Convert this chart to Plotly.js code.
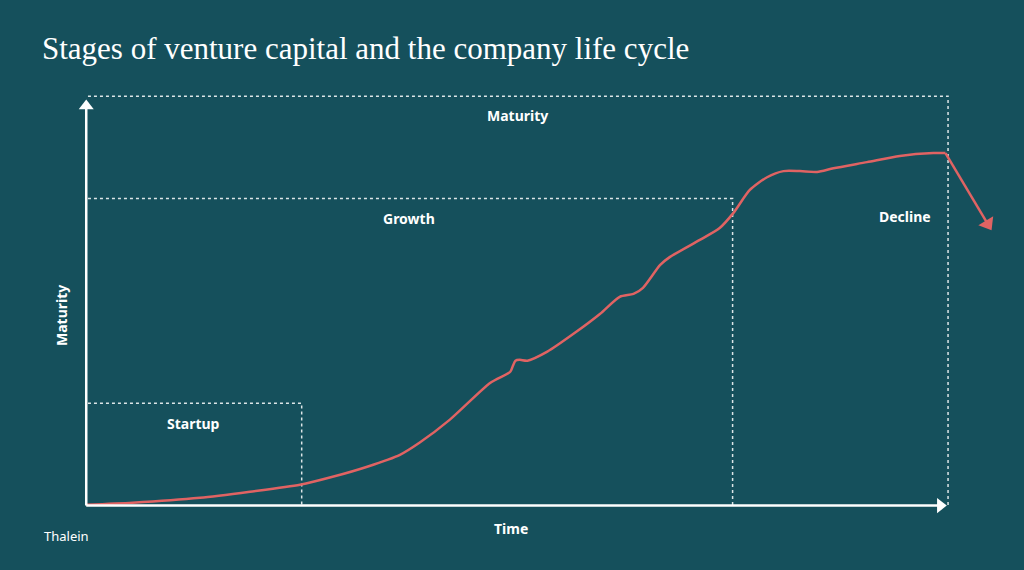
<!DOCTYPE html>
<html>
<head>
<meta charset="utf-8">
<script src="https://cdn.plot.ly/plotly-3.0.1.min.js"></script>
<style>html,body{margin:0;padding:0;background:#15505c;}#chart{width:1024px;height:570px;}</style>
</head>
<body>
<div id="chart"></div>
<script>
// Life-cycle curve (time vs maturity, 0-100 scale)
const timeVals = [0, 5.4, 13.2, 19.0, 24.8, 28.7, 32.6, 36.4, 38.7, 42.2, 46.9, 49.2, 49.5, 49.8, 50.3, 51.2, 53.5, 56.7, 59.6, 61.9, 63.5, 64.6, 66.6, 67.7, 71.2, 73.5, 75.1, 77.0, 79.0, 80.9, 82.8, 84.8, 86.7, 90.6, 94.4, 98.3, 99.7];
const maturityVals = [0.2, 0.7, 1.9, 3.4, 5.1, 7.1, 9.5, 12.4, 15.4, 21.0, 30.0, 32.7, 34.1, 35.4, 35.6, 35.4, 37.6, 42.2, 46.8, 51.0, 51.7, 53.2, 58.8, 60.7, 64.9, 67.8, 71.5, 77.1, 80.2, 81.7, 81.7, 81.5, 82.4, 83.9, 85.4, 86.1, 86.1];
// Decline segment
const declineTime = [99.7, 104.6];
const declineMaturity = [86.1, 68.8];
// Stages
const stageNames = ["Startup", "Growth", "Maturity"];
const stageBounds = [25, 75, 100];
const stageLabelX = [12.4, 37.5, 50];
const stageLabelY = [20, 70.2, 95.4];
const declineLabel = {text: "Decline", x: 95, y: 70.5};

const white = "#ffffff";
const red = "#e06363";
const labFont = {family: "Noto Sans, DejaVu Sans, sans-serif", size: 14, color: white, weight: 700};

const traces = [
  {x: timeVals, y: maturityVals, mode: "lines", line: {color: red, width: 2.5, shape: "spline", smoothing: 0.7}, hoverinfo: "skip"},
  {x: declineTime, y: declineMaturity, mode: "lines+markers", line: {color: red, width: 2.5},
   marker: {symbol: "triangle-up", size: [0, 15], color: red, opacity: 1, line: {width: 0}, angleref: "previous"}, cliponaxis: false, hoverinfo: "skip"},
  // axes arrows
  {x: [0, 0], y: [0, 97.6], mode: "lines+markers", line: {color: white, width: 2.5},
   marker: {symbol: "triangle-up", size: [0, 13], color: white, opacity: 1, line: {width: 0}, angleref: "previous"}, cliponaxis: false, hoverinfo: "skip"},
  {x: [0, 99.1], y: [0, 0], mode: "lines+markers", line: {color: white, width: 2.5},
   marker: {symbol: "triangle-up", size: [0, 13], color: white, opacity: 1, line: {width: 0}, angleref: "previous"}, cliponaxis: false, hoverinfo: "skip"}
];

const shapes = stageBounds.map(b => ({
  type: "path", xref: "x", yref: "y",
  path: `M 0.2,${b} L ${b},${b} L ${b},0`,
  line: {color: "rgba(255,255,255,0.85)", width: 1.5, dash: "dot"}, layer: "below"
}));

const annotations = stageNames.map((n, i) => ({
  text: n, x: stageLabelX[i], y: stageLabelY[i], xref: "x", yref: "y", showarrow: false, font: labFont
}));
annotations.push({text: declineLabel.text, x: declineLabel.x, y: declineLabel.y, xref: "x", yref: "y", showarrow: false, font: labFont});
annotations.push({text: "Time", x: 0.466, y: -0.016, xref: "paper", yref: "paper", showarrow: false, font: labFont, yanchor: "middle"});
annotations.push({text: "Maturity", x: -0.0074, y: 0.477, xref: "paper", yref: "paper", xanchor: "center", yanchor: "middle", showarrow: false, font: labFont, textangle: -90});
annotations.push({text: "Thalein", x: -0.0285, y: -0.0576, xref: "paper", yref: "paper", xanchor: "left", showarrow: false,
  font: {family: "Noto Sans, DejaVu Sans, sans-serif", size: 13, color: white}});

const layout = {
  width: 1024, height: 570,
  paper_bgcolor: "#15505c", plot_bgcolor: "#15505c",
  margin: {l: 69, r: 7, t: 88, b: 48},
  showlegend: false,
  title: {text: "Stages of venture capital and the company life cycle", x: 0.041, xref: "container", xanchor: "left",
    y: 0.916, yref: "container", yanchor: "middle",
    font: {family: "Liberation Serif, DejaVu Serif, serif", size: 31, color: white}},
  xaxis: {range: [-2, 108], visible: false, fixedrange: true},
  yaxis: {range: [-4, 102], visible: false, fixedrange: true},
  shapes: shapes,
  annotations: annotations
};

Plotly.newPlot("chart", traces, layout, {displayModeBar: false, staticPlot: true});
</script>
</body>
</html>
